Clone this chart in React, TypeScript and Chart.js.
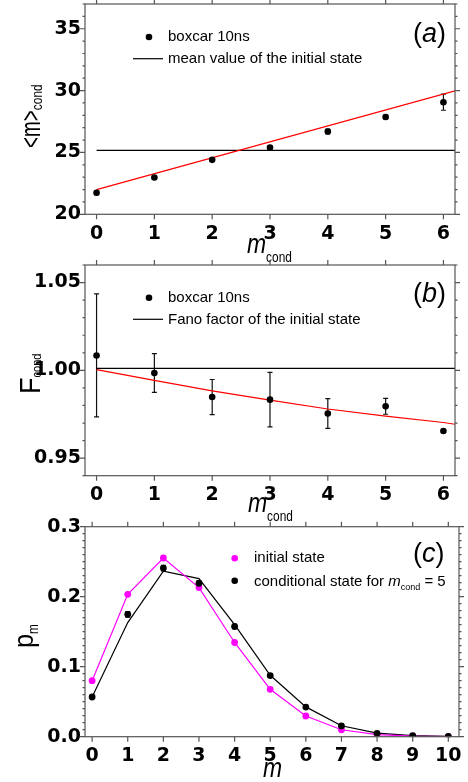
import React, { useEffect, useRef } from "react";
import { Chart, registerables } from "chart.js";

Chart.register(...registerables);

// ---------- Panel (a) ----------
const A_X = [0, 1, 2, 3, 4, 5, 6];
const A_Y = [21.74, 22.98, 24.4, 25.4, 26.69, 27.87, 29.06];
const A_ERR = [0.15, 0.1, 0.1, 0.1, 0.2, 0.15, 0.65];
const A_FIT_X = [0, 6.2];
const A_FIT_Y = [22.0, 29.98];
const A_INIT = 25.16;
const A_XTICKS = [0, 1, 2, 3, 4, 5, 6];
const A_YTICKS = [20, 25, 30, 35];
const A_YLABELS = ["20", "25", "30", "35"];

// ---------- Panel (b) ----------
const B_X = [0, 1, 2, 3, 4, 5, 6];
const B_Y = [1.0085, 0.9985, 0.9848, 0.9833, 0.9754, 0.9795, 0.9655];
const B_ERR = [0.035, 0.011, 0.01, 0.0155, 0.0085, 0.0045, 0.0008];
const B_FIT_X = [0, 1, 2, 3, 4, 5, 6, 6.2];
const B_FIT_Y = [1.0004, 0.9943, 0.9883, 0.983, 0.978, 0.9739, 0.9703, 0.9693];
const B_INIT = 1.0011;
const B_XTICKS = [0, 1, 2, 3, 4, 5, 6];
const B_YTICKS = [0.95, 1.0, 1.05];
const B_YLABELS = ["0.95", "1.00", "1.05"];

// ---------- Panel (c) ----------
const C_X = [0, 1, 2, 3, 4, 5, 6, 7, 8, 9, 10];
const C_INIT = [0.08, 0.2034, 0.2553, 0.213, 0.1346, 0.0677, 0.0296, 0.0099, 0.0031, 0.0009, 0.0002];
const C_COND = [0.0567, 0.1748, 0.2409, 0.2192, 0.1574, 0.0873, 0.0423, 0.0154, 0.0048, 0.0016, 0.0003];
const C_COND_ERR = [0.001, 0.004, 0.004, 0.003, 0.003, 0.002, 0.001, 0.001, 0.0005, 0.0003, 0.0002];
const C_THEORY = [0.0567, 0.163, 0.2364, 0.2258, 0.16, 0.0877, 0.0426, 0.0156, 0.005, 0.0015, 0.0004];
const C_XTICKS = [0, 1, 2, 3, 4, 5, 6, 7, 8, 9, 10];
const C_YTICKS = [0.0, 0.1, 0.2, 0.3];
const C_YLABELS = ["0.0", "0.1", "0.2", "0.3"];

const SANS = '"Liberation Sans", Arial, sans-serif';
const TICK_FONT = { family: '"DejaVu Sans", sans-serif', size: 19, weight: "bold" as const };
const FRAME = "#555555";

type Part = { t: string; f: string; dy?: number; sx?: number };

function drawRich(ctx: CanvasRenderingContext2D, parts: Part[], x: number, y: number) {
  let cx = x;
  for (const p of parts) {
    ctx.font = p.f;
    const sx = p.sx || 1;
    const w = ctx.measureText(p.t).width * sx;
    ctx.save();
    ctx.translate(cx, y + (p.dy || 0));
    ctx.scale(sx, 1);
    ctx.fillText(p.t, 0, 0);
    ctx.restore();
    cx += w;
  }
}

function drawRotated(ctx: CanvasRenderingContext2D, parts: Part[], x: number, y: number) {
  ctx.save();
  ctx.translate(x, y);
  ctx.rotate(-Math.PI / 2);
  drawRich(ctx, parts, 0, 0);
  ctx.restore();
}

type Cfg = {
  id: string;
  top: number;
  height: number;
  area: { left: number; right: number; top: number; bottom: number };
  xMin: number;
  xMax: number;
  yMin: number;
  yMax: number;
  xTicks: number[];
  yTicks: number[];
  yLabels: string[];
  yMinor: number;
  datasets: any[];
  errors: { xs: number[]; ys: number[]; es: number[] }[];
  texts: (ctx: CanvasRenderingContext2D, chart: any) => void;
};

function makeChart(canvas: HTMLCanvasElement, cfg: Cfg) {
  const H = cfg.height;
  const areaTop = cfg.area.top - cfg.top;
  const areaBottom = cfg.area.bottom - cfg.top;
  const plugin = {
    id: "deco" + cfg.id,
    beforeDatasetsDraw(chart: any) {
      const { ctx, scales } = chart;
      const x = scales.x, y = scales.y;
      ctx.save();
      ctx.strokeStyle = "#111";
      ctx.lineWidth = 1.2;
      for (const e of cfg.errors) {
        e.xs.forEach((xv, i) => {
          const px = x.getPixelForValue(xv);
          const p1 = y.getPixelForValue(e.ys[i] + e.es[i]);
          const p2 = y.getPixelForValue(e.ys[i] - e.es[i]);
          ctx.beginPath();
          ctx.moveTo(px, p1); ctx.lineTo(px, p2);
          ctx.moveTo(px - 2.5, p1); ctx.lineTo(px + 2.5, p1);
          ctx.moveTo(px - 2.5, p2); ctx.lineTo(px + 2.5, p2);
          ctx.stroke();
        });
      }
      ctx.restore();
    },
    afterDraw(chart: any) {
      const { ctx, chartArea: a, scales } = chart;
      const x = scales.x, y = scales.y;
      ctx.save();
      ctx.strokeStyle = FRAME;
      ctx.lineWidth = 1.2;
      ctx.strokeRect(a.left, a.top, a.right - a.left, a.bottom - a.top);
      ctx.beginPath();
      for (const v of cfg.xTicks) {
        const px = x.getPixelForValue(v);
        ctx.moveTo(px, a.bottom); ctx.lineTo(px, a.bottom + 5);
        ctx.moveTo(px, a.top); ctx.lineTo(px, a.top - 5);
      }
      const n = Math.round((cfg.yMax - cfg.yMin) / cfg.yMinor);
      const start = Math.ceil(cfg.yMin / cfg.yMinor - 1e-6);
      for (let k = start; k <= start + n + 1; k++) {
        const v = k * cfg.yMinor;
        if (v > cfg.yMax + 1e-9 || v < cfg.yMin - 1e-9) continue;
        const major = cfg.yTicks.some((t) => Math.abs(t - v) < cfg.yMinor / 10);
        const len = major ? 5 : 2.5;
        const py = y.getPixelForValue(v);
        ctx.moveTo(a.left - len, py); ctx.lineTo(a.left, py);
        ctx.moveTo(a.right, py); ctx.lineTo(a.right + len, py);
      }
      ctx.stroke();
      ctx.fillStyle = "#000";
      ctx.textBaseline = "alphabetic";
      ctx.textAlign = "left";
      cfg.texts(ctx, chart);
      ctx.restore();
    },
  };
  return new Chart(canvas, {
    type: "scatter",
    data: { datasets: cfg.datasets },
    options: {
      animation: false,
      responsive: false,
      maintainAspectRatio: false,
      layout: { padding: { top: areaTop, right: 468 - cfg.area.right, left: 0, bottom: 0 } },
      plugins: { legend: { display: false }, tooltip: { enabled: false } },
      scales: {
        x: {
          type: "linear",
          min: cfg.xMin,
          max: cfg.xMax,
          grid: { display: false, drawTicks: false },
          border: { display: false },
          afterBuildTicks: (s: any) => {
            s.ticks = cfg.xTicks.map((v) => ({ value: v }));
          },
          afterFit: (s: any) => {
            s.height = H - areaBottom;
            s.paddingLeft = 0;
            s.paddingRight = 0;
          },
          ticks: {
            font: TICK_FONT,
            color: "#000",
            padding: 8,
            maxRotation: 0,
            autoSkip: false,
            callback: (v: any) => String(v),
          },
        },
        y: {
          type: "linear",
          min: cfg.yMin,
          max: cfg.yMax,
          grid: { display: false, drawTicks: false },
          border: { display: false },
          afterBuildTicks: (s: any) => {
            s.ticks = cfg.yTicks.map((v) => ({ value: v }));
          },
          afterFit: (s: any) => {
            s.width = cfg.area.left;
            s.paddingTop = 0;
            s.paddingBottom = 0;
          },
          ticks: {
            font: TICK_FONT,
            color: "#000",
            padding: 4,
            autoSkip: false,
            callback: (_v: any, i: number) => cfg.yLabels[i],
          },
        },
      },
    },
    plugins: [plugin],
  } as any);
}

const pts = (xs: number[], ys: number[]) => xs.map((x, i) => ({ x, y: ys[i] }));

const lineDs = (data: any[], color: string) => ({
  data,
  showLine: true,
  borderColor: color,
  borderWidth: 1.2,
  pointRadius: 0,
  tension: 0,
});

const dotDs = (data: any[], color: string, r = 3.3) => ({
  data,
  showLine: false,
  pointRadius: r,
  pointBackgroundColor: color,
  pointBorderWidth: 0,
  borderColor: color,
});

const panelLabel = (ctx: CanvasRenderingContext2D, letter: string, x: number, y: number) => {
  drawRich(ctx, [
    { t: "(", f: `27px ${SANS}` },
    { t: letter, f: `italic 27px ${SANS}` },
    { t: ")", f: `27px ${SANS}` },
  ], x, y);
};

const legendDot = (ctx: CanvasRenderingContext2D, x: number, y: number, color: string) => {
  ctx.save();
  ctx.fillStyle = color;
  ctx.beginPath();
  ctx.arc(x, y, 3.3, 0, Math.PI * 2);
  ctx.fill();
  ctx.restore();
};

const legendLine = (ctx: CanvasRenderingContext2D, x1: number, x2: number, y: number) => {
  ctx.save();
  ctx.strokeStyle = "#000";
  ctx.lineWidth = 1.2;
  ctx.beginPath();
  ctx.moveTo(x1, y);
  ctx.lineTo(x2, y);
  ctx.stroke();
  ctx.restore();
};

const xTitleCond = (ctx: CanvasRenderingContext2D, x: number, y: number) => {
  drawRich(ctx, [
    { t: "m", f: `italic 27px ${SANS}`, sx: 0.85 },
    { t: "cond", f: `14px ${SANS}`, dy: 9, sx: 0.85 },
  ], x, y);
};

const CFG_A: Cfg = {
  id: "a",
  top: 0,
  height: 262,
  area: { left: 85, right: 455, top: 4, bottom: 214.3 },
  xMin: -0.2,
  xMax: 6.2,
  yMin: 20,
  yMax: 37,
  xTicks: A_XTICKS,
  yTicks: A_YTICKS,
  yLabels: A_YLABELS,
  yMinor: 1,
  datasets: [
    dotDs(pts(A_X, A_Y), "#000"),
    lineDs(pts(A_FIT_X, A_FIT_Y), "#ff0000"),
    lineDs([{ x: 0, y: A_INIT }, { x: 6.2, y: A_INIT }], "#000"),
  ],
  errors: [{ xs: A_X, ys: A_Y, es: A_ERR }],
  texts: (ctx) => {
    const top = 0;
    legendDot(ctx, 149, 37 - top, "#000");
    ctx.font = `15px ${SANS}`;
    ctx.textBaseline = "middle";
    ctx.fillText("boxcar 10ns", 168, 37 - top);
    legendLine(ctx, 133, 163, 58.7 - top);
    ctx.fillText("mean value of the initial state", 168, 59 - top);
    ctx.textBaseline = "alphabetic";
    panelLabel(ctx, "a", 413, 42 - top);
    xTitleCond(ctx, 247, 253 - top);
    drawRotated(ctx, [
      { t: "<m>", f: `27px ${SANS}`, sx: 0.7 },
      { t: "cond", f: `14px ${SANS}`, dy: 2, sx: 0.85 },
    ], 40, 148 - top);
  },
};

const CFG_B: Cfg = {
  id: "b",
  top: 258,
  height: 268,
  area: { left: 85, right: 455, top: 265, bottom: 475.7 },
  xMin: -0.2,
  xMax: 6.2,
  yMin: 0.94,
  yMax: 1.06,
  xTicks: B_XTICKS,
  yTicks: B_YTICKS,
  yLabels: B_YLABELS,
  yMinor: 0.01,
  datasets: [
    dotDs(pts(B_X, B_Y), "#000"),
    lineDs(pts(B_FIT_X, B_FIT_Y), "#ff0000"),
    lineDs([{ x: 0, y: B_INIT }, { x: 6.2, y: B_INIT }], "#000"),
  ],
  errors: [{ xs: B_X, ys: B_Y, es: B_ERR }],
  texts: (ctx) => {
    const top = 258;
    legendDot(ctx, 149, 297.7 - top, "#000");
    ctx.font = `15px ${SANS}`;
    ctx.textBaseline = "middle";
    ctx.fillText("boxcar 10ns", 168, 297.7 - top);
    legendLine(ctx, 133, 163, 319.3 - top);
    ctx.fillText("Fano factor of the initial state", 168, 319.5 - top);
    ctx.textBaseline = "alphabetic";
    panelLabel(ctx, "b", 413, 302 - top);
    xTitleCond(ctx, 248, 512 - top);
    drawRotated(ctx, [
      { t: "F", f: `30px ${SANS}`, sx: 0.9 },
      { t: "cond", f: `13px ${SANS}`, dy: 1, sx: 0.85 },
    ], 40, 394 - top);
  },
};

const CFG_C: Cfg = {
  id: "c",
  top: 512,
  height: 270,
  area: { left: 85, right: 459, top: 526.7, bottom: 736.7 },
  xMin: -0.2,
  xMax: 10.3,
  yMin: 0,
  yMax: 0.3,
  xTicks: C_XTICKS,
  yTicks: C_YTICKS,
  yLabels: C_YLABELS,
  yMinor: 0.01,
  datasets: [
    dotDs(pts(C_X, C_COND), "#000", 3.4),
    { ...lineDs(pts(C_X, C_INIT), "#ff00ff"), pointRadius: 3.4, pointBackgroundColor: "#ff00ff", pointBorderWidth: 0 },
    lineDs(pts(C_X, C_THEORY), "#000"),
  ],
  errors: [{ xs: C_X, ys: C_COND, es: C_COND_ERR }],
  texts: (ctx) => {
    const top = 512;
    legendDot(ctx, 234.7, 558.3 - top, "#ff00ff");
    legendDot(ctx, 234.7, 580.7 - top, "#000");
    ctx.font = `15px ${SANS}`;
    ctx.textBaseline = "middle";
    ctx.fillText("initial state", 254, 558.3 - top);
    ctx.textBaseline = "alphabetic";
    const by = 586 - top;
    drawRich(ctx, [
      { t: "conditional state for ", f: `15px ${SANS}` },
      { t: "m", f: `italic 15px ${SANS}` },
      { t: "cond", f: `9px ${SANS}`, dy: 4 },
      { t: " = 5", f: `15px ${SANS}` },
    ], 254, by);
    panelLabel(ctx, "c", 413, 562 - top);
    drawRich(ctx, [{ t: "m", f: `italic 27px ${SANS}`, sx: 0.85 }], 263, 777 - top);
    drawRotated(ctx, [
      { t: "p", f: `28px ${SANS}`, sx: 0.9 },
      { t: "m", f: `14px ${SANS}`, dy: 5, sx: 0.85 },
    ], 33, 648 - top);
  },
};

function Panel({ cfg }: { cfg: Cfg }) {
  const ref = useRef<HTMLCanvasElement>(null);
  useEffect(() => {
    if (!ref.current) return;
    const chart = makeChart(ref.current, cfg);
    return () => chart.destroy();
  }, [cfg]);
  return (
    <canvas
      ref={ref}
      width={468}
      height={cfg.height}
      style={{ position: "absolute", left: 0, top: cfg.top, width: 468, height: cfg.height, display: "block" }}
    />
  );
}

export default function App() {
  return (
    <div style={{ position: "absolute", left: 0, top: 0, width: 468, height: 782, background: "#fff", overflow: "hidden" }}>
      <Panel cfg={CFG_A} />
      <Panel cfg={CFG_B} />
      <Panel cfg={CFG_C} />
    </div>
  );
}
